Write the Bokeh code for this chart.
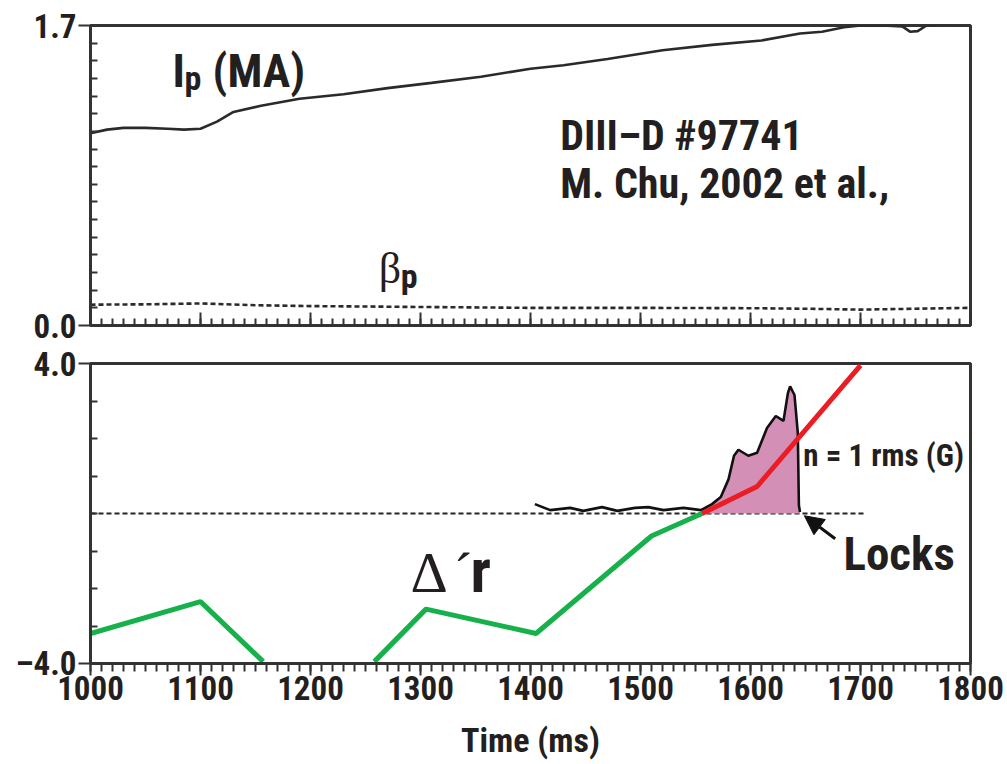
import numpy as np
from bokeh.plotting import figure
from bokeh.layouts import column
from bokeh.models import (FixedTicker, PrintfTickFormatter, CustomJSTickFormatter,
                          Label, Arrow, NormalHead, Range1d)
from bokeh.embed import file_html
from bokeh.resources import INLINE

# ---------------- data ----------------
ip_t = [1000, 1015, 1030, 1050, 1070, 1085, 1100, 1115, 1130, 1155, 1190, 1230, 1270,
        1310, 1355, 1400, 1430, 1470, 1520, 1565, 1610, 1645, 1665, 1685, 1700, 1720,
        1738, 1745, 1752, 1760, 1800]
ip_v = [1.09, 1.11, 1.12, 1.12, 1.115, 1.11, 1.115, 1.155, 1.21, 1.245, 1.285, 1.31, 1.345,
        1.375, 1.41, 1.455, 1.475, 1.51, 1.56, 1.59, 1.615, 1.655, 1.665, 1.69, 1.70, 1.70,
        1.695, 1.665, 1.668, 1.70, 1.72]

bp_t = [1000, 1050, 1100, 1150, 1200, 1300, 1400, 1500, 1600, 1650, 1700, 1750, 1800]
bp_v = [0.118, 0.12, 0.125, 0.115, 0.11, 0.105, 0.10, 0.10, 0.098, 0.095, 0.09, 0.095, 0.10]

green_t = [1000, 1100, 1157, np.nan, 1258, 1305, 1405, 1510, 1556]
green_v = [-3.2, -2.35, -3.95, np.nan, -3.95, -2.55, -3.2, -0.6, 0.0]

red_t = [1556, 1606, 1700]
red_v = [0.0, 0.72, 3.95]

rms_t = [1404, 1418, 1436, 1448, 1465, 1479, 1495, 1507, 1521, 1539, 1555, 1565, 1573,
         1580, 1585, 1589, 1598, 1606, 1615, 1623, 1630, 1634, 1636, 1640, 1643, 1644, 1645]
rms_v = [0.25, 0.09, 0.15, 0.07, 0.17, 0.07, 0.15, 0.17, 0.09, 0.15, 0.09, 0.25, 0.44,
         0.91, 1.54, 1.70, 1.54, 1.62, 2.28, 2.60, 2.47, 3.21, 3.39, 3.16, 2.15, 0.22, 0.04]

zero_t = [1000, 1705]
zero_v = [0.0, 0.0]

lock_t = 1555  # start of the locked-mode fill

x_major = list(range(1000, 1801, 100))
x_minor = list(range(1000, 1801, 10))

FONT = "Roboto Condensed, DejaVu Sans Condensed, Liberation Sans"
INK = "#231f20"
AX = "#333333"


def style(p):
    p.grid.visible = False
    p.outline_line_color = AX
    p.outline_line_width = 3
    p.background_fill_color = "white"
    p.border_fill_color = "white"
    for ax in (p.xaxis[0], p.yaxis[0]):
        ax.axis_line_color = AX
        ax.axis_line_width = 3
        ax.major_tick_line_color = AX
        ax.minor_tick_line_color = AX
        ax.major_tick_line_width = 2
        ax.minor_tick_line_width = 2
        ax.major_label_text_font = FONT
        ax.major_label_text_font_style = "bold"
        ax.major_label_text_font_size = "33px"
        ax.major_label_text_color = INK


def label(p, x, y, text, size, font=FONT, style="bold", dx=0):
    p.add_layout(Label(x=x, y=y, x_offset=dx, text=text, text_font=font,
                       text_font_style=style, text_font_size=size, text_color=INK,
                       text_baseline="alphabetic", text_align="left"))


# ---------------- top panel ----------------
p1 = figure(width=1007, height=344, x_range=Range1d(1000, 1800), y_range=Range1d(0, 1.7),
            output_backend="svg", toolbar_location=None,
            min_border_left=90, min_border_right=37, min_border_top=25, min_border_bottom=19)
style(p1)
p1.xaxis.ticker = FixedTicker(ticks=x_major, minor_ticks=x_minor)
p1.xaxis.major_tick_in = 13
p1.xaxis.major_tick_out = 0
p1.xaxis.minor_tick_in = 7
p1.xaxis.minor_tick_out = 0
p1.xaxis.formatter = CustomJSTickFormatter(code="return '';")
p1.xaxis.major_label_standoff = 0
p1.yaxis.ticker = FixedTicker(ticks=[0, 1.7], minor_ticks=[round(0.1 * i, 1) for i in range(1, 17)])
p1.yaxis.formatter = PrintfTickFormatter(format="%.1f")
p1.yaxis.major_tick_in = 0
p1.yaxis.major_tick_out = 12
p1.yaxis.minor_tick_in = 7
p1.yaxis.minor_tick_out = 0
p1.yaxis.major_label_standoff = 2

p1.line(ip_t, ip_v, line_color="#2a2a2a", line_width=2.6)
p1.line(bp_t, bp_v, line_color="#2a2a2a", line_width=2.6, line_dash="5 3")

label(p1, 1074.5, 1.445, "I", "46px")
label(p1, 1074.5, 1.403, "p", "34px", dx=12)
label(p1, 1111, 1.445, "(MA)", "46px")
label(p1, 1427, 1.074, "DIII\u2013D #97741", "42px")
label(p1, 1427, 0.8075, "M. Chu, 2002 et al.,", "42px")
label(p1, 1262, 0.3247, "\u03b2", "44px", font="Liberation Serif", style="normal")
label(p1, 1262, 0.281, "p", "34px", dx=22)

# ---------------- bottom panel ----------------
p2 = figure(width=1007, height=420, x_range=Range1d(1000, 1800), y_range=Range1d(-4, 4),
            output_backend="svg", toolbar_location=None,
            min_border_left=90, min_border_right=37, min_border_top=19, min_border_bottom=101)
style(p2)
p2.xaxis.ticker = FixedTicker(ticks=x_major, minor_ticks=x_minor)
p2.xaxis.major_tick_in = 0
p2.xaxis.major_tick_out = 12
p2.xaxis.minor_tick_in = 0
p2.xaxis.minor_tick_out = 8
p2.xaxis.major_label_standoff = 0
p2.xaxis.axis_label = "Time (ms)"
p2.xaxis.axis_label_text_font = FONT
p2.xaxis.axis_label_text_font_style = "bold"
p2.xaxis.axis_label_text_font_size = "34px"
p2.xaxis.axis_label_text_color = INK
p2.xaxis.axis_label_standoff = 17
p2.yaxis.ticker = FixedTicker(ticks=[-4, 4], minor_ticks=[-3, -2, -1, 0, 1, 2, 3])
p2.yaxis.formatter = CustomJSTickFormatter(code="return tick.toFixed(1).replace('-', '\\u2013');")
p2.yaxis.major_tick_in = 0
p2.yaxis.major_tick_out = 12
p2.yaxis.minor_tick_in = 7
p2.yaxis.minor_tick_out = 0
p2.yaxis.major_label_standoff = 2

p2.line(zero_t, zero_v, line_color="#222222", line_width=2, line_dash="5 3")
rt = np.array(rms_t, dtype=float)
rv = np.array(rms_v, dtype=float)
m = rt >= lock_t
p2.varea(x=rt[m], y1=np.zeros(m.sum()), y2=rv[m], fill_color="#d48fb6")
p2.line(rms_t, rms_v, line_color="#111111", line_width=2.6)
p2.line(green_t, green_v, line_color="#16b14b", line_width=5)
p2.line(red_t, red_v, line_color="#ec1c24", line_width=5)

p2.add_layout(Arrow(end=NormalHead(size=19, fill_color="#111111", line_color="#111111"),
                    x_start=1677, y_start=-0.674, x_end=1649, y_end=-0.06,
                    line_color="#111111", line_width=3))

label(p2, 1291, -1.56, "\u0394", "58px", font="Liberation Serif", style="normal")
label(p2, 1330, -1.56, "\u00b4", "58px", font="Liberation Serif", style="normal")
label(p2, 1345.5, -1.52, "r", "62px")
label(p2, 1648, 1.56, "n = 1 rms (G)", "31px")
label(p2, 1684.5, -1.056, "Locks", "47px")

layout = column(p1, p2)
open("out.html", "w").write(file_html(layout, INLINE))
